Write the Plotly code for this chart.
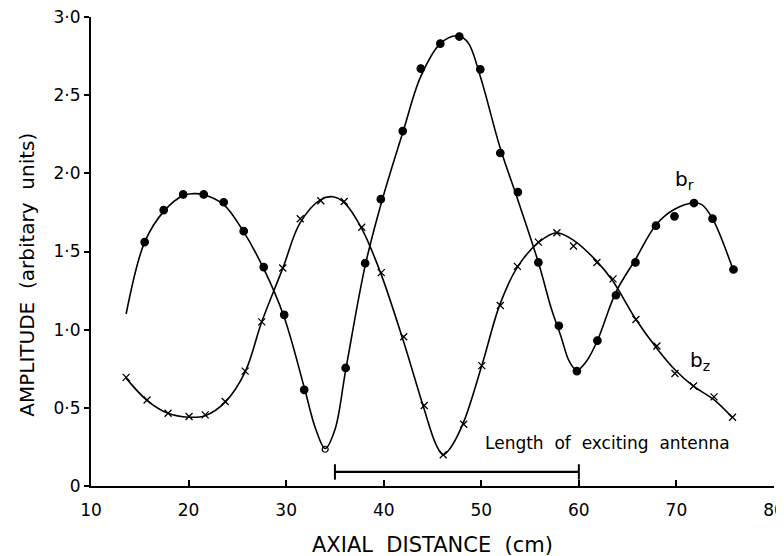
import plotly.graph_objects as go
import numpy as np

# ---- data ----
# b_r measured points (filled dots)
br_x = [15.5, 17.45, 19.45, 21.55, 23.6, 25.65, 27.7, 29.8, 31.85, 34.0, 36.1, 38.1,
        39.7, 41.95, 43.8, 45.8, 47.75, 49.9, 51.95, 53.75, 55.85, 57.95, 59.8, 61.9,
        63.8, 65.8, 67.9, 69.8, 71.8, 73.7, 75.85]
br_y = [1.56, 1.765, 1.865, 1.865, 1.815, 1.63, 1.40, 1.095, 0.615, 0.235, 0.755, 1.425,
        1.835, 2.27, 2.67, 2.83, 2.875, 2.665, 2.13, 1.88, 1.43, 1.025, 0.735, 0.93,
        1.22, 1.43, 1.665, 1.725, 1.81, 1.71, 1.385]

# b_z measured points (crosses)
bz_x = [13.6, 15.75, 17.9, 20.05, 21.7, 23.75, 25.8, 27.5, 29.65, 31.45, 33.55, 35.95,
        37.75, 39.75, 42.05, 44.15, 46.1, 48.2, 50.05, 51.95, 53.7, 55.85, 57.75, 59.45,
        61.85, 63.5, 65.85, 68.0, 69.85, 71.75, 73.85, 75.75]
bz_y = [0.695, 0.55, 0.465, 0.445, 0.455, 0.54, 0.735, 1.05, 1.395, 1.71, 1.825, 1.82,
        1.655, 1.365, 0.955, 0.515, 0.20, 0.395, 0.77, 1.155, 1.405, 1.56, 1.62, 1.535,
        1.43, 1.325, 1.065, 0.895, 0.72, 0.64, 0.57, 0.44]

# smooth fitted curves
br_curve_x = [13.6, 15.5, 17.5, 19.5, 20.5, 21.5, 23.6, 25.6, 27.7, 29.8, 31.9, 33.0, 34.0,
              35.0, 36.1, 38.1, 39.8, 42.0, 43.8, 45.8, 47.5, 48.6, 49.9, 51.9, 53.8,
              55.9, 57.2, 58.2, 59.0, 59.8, 60.8, 61.9, 63.8, 65.8, 67.9, 69.8, 71.8,
              72.6, 73.7, 75.8]
br_curve_y = [1.10, 1.56, 1.76, 1.86, 1.87, 1.865, 1.80, 1.63, 1.39, 1.08, 0.62, 0.37, 0.24,
              0.36, 0.74, 1.41, 1.82, 2.27, 2.62, 2.83, 2.88, 2.84, 2.62, 2.17, 1.82,
              1.42, 1.13, 0.95, 0.80, 0.74, 0.80, 0.93, 1.24, 1.45, 1.67, 1.77, 1.81,
              1.80, 1.71, 1.385]

bz_curve_x = [13.6, 15.7, 17.9, 20.0, 21.7, 23.8, 25.8, 27.5, 29.7, 31.4, 33.5, 34.8, 36.0,
              37.8, 39.7, 42.0, 44.1, 45.4, 46.1, 46.8, 48.2, 50.1, 51.9, 53.7, 55.9,
              57.7, 59.5, 61.8, 63.5, 65.8, 68.0, 69.9, 71.7, 73.9, 75.7]
bz_curve_y = [0.69, 0.55, 0.465, 0.44, 0.45, 0.54, 0.73, 1.05, 1.40, 1.68, 1.83, 1.85, 1.81,
              1.64, 1.36, 0.93, 0.50, 0.26, 0.20, 0.24, 0.41, 0.78, 1.16, 1.40, 1.56,
              1.62, 1.57, 1.44, 1.31, 1.07, 0.88, 0.74, 0.64, 0.55, 0.44]

# antenna extent
antenna_x = [35.0, 60.0]
antenna_y = [0.09, 0.09]

x_ticks = [10, 20, 30, 40, 50, 60, 70, 80]
y_ticks = [0, 0.5, 1.0, 1.5, 2.0, 2.5, 3.0]
y_tick_text = ["0", "0·5", "1·0", "1·5", "2·0", "2·5", "3·0"]

FONT = "DejaVu Sans"
INK = "black"

fig = go.Figure()

fig.add_trace(go.Scatter(x=br_curve_x, y=br_curve_y, mode="lines",
                         line=dict(color=INK, width=1.6, shape="spline", smoothing=1.0),
                         hoverinfo="skip", showlegend=False))
fig.add_trace(go.Scatter(x=bz_curve_x, y=bz_curve_y, mode="lines",
                         line=dict(color=INK, width=1.6, shape="spline", smoothing=1.0),
                         hoverinfo="skip", showlegend=False))

imin = int(np.argmin(br_y))
br_sym = ["circle-open" if i == imin else "circle" for i in range(len(br_y))]
br_size = [6 if i == imin else 7.5 for i in range(len(br_y))]
fig.add_trace(go.Scatter(x=br_x, y=br_y, mode="markers", name="b_r",
                         marker=dict(symbol=br_sym, size=br_size, color=INK, opacity=1,
                                     line=dict(color=INK, width=1.2)),
                         showlegend=False))
fig.add_trace(go.Scatter(x=bz_x, y=bz_y, mode="markers", name="b_z",
                         marker=dict(symbol="x-thin", size=7, color=INK, opacity=1,
                                     line=dict(color=INK, width=1.3)),
                         showlegend=False))

fig.add_trace(go.Scatter(x=antenna_x, y=antenna_y, mode="lines+markers",
                         line=dict(color=INK, width=2.2),
                         marker=dict(symbol="line-ns", size=11,
                                     line=dict(color=INK, width=2)),
                         hoverinfo="skip", showlegend=False))

fig.add_annotation(x=50.2, y=0.275, xref="x", yref="y", xanchor="left", yanchor="middle",
                   text="Length  of  exciting  antenna", showarrow=False,
                   font=dict(family=FONT, size=17, color=INK))
fig.add_annotation(x=70.8, y=1.955, xref="x", yref="y", text="b<sub>r</sub>",
                   showarrow=False, font=dict(family=FONT, size=20, color=INK))
fig.add_annotation(x=72.4, y=0.80, xref="x", yref="y", text="b<sub>z</sub>",
                   showarrow=False, font=dict(family=FONT, size=20, color=INK))

fig.add_annotation(x=-0.094, y=0.45, xref="paper", yref="paper", textangle=-90,
                   xanchor="center", yanchor="middle",
                   text="AMPLITUDE  (arbitary  units)", showarrow=False,
                   font=dict(family=FONT, size=20, color=INK))

# the page body adds an 8 px offset, margins compensate for it
fig.update_layout(
    width=784, height=556,
    margin=dict(l=83, r=18, t=9, b=78),
    paper_bgcolor="white", plot_bgcolor="white",
    font=dict(family=FONT, size=16, color=INK),
    showlegend=False,
    xaxis=dict(range=[10, 80], tickvals=x_ticks, ticktext=[str(v) for v in x_ticks],
               automargin=False,
               showgrid=False, zeroline=False, showline=True, linecolor=INK, linewidth=2,
               ticks="inside", ticklen=6, tickwidth=1.5, tickcolor=INK,
               ticklabeloverflow="allow", ticklabelstandoff=8,
               tickfont=dict(family=FONT, size=17, color=INK),
               title=dict(text="AXIAL  DISTANCE  (cm)", standoff=18,
                          font=dict(family=FONT, size=21, color=INK))),
    yaxis=dict(range=[0, 3.0], tickvals=y_ticks, ticktext=y_tick_text,
               automargin=False,
               showgrid=False, zeroline=False, showline=True, linecolor=INK, linewidth=2,
               ticks="outside", ticklen=5, tickwidth=1.5, tickcolor=INK,
               ticklabeloverflow="allow",
               tickfont=dict(family=FONT, size=17, color=INK)),
)

fig.write_html("out.html")
